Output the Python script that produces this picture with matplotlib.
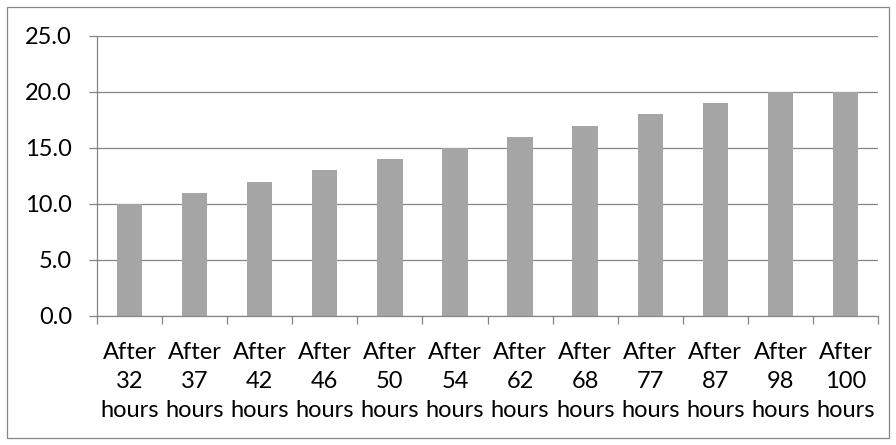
import matplotlib.pyplot as plt
from matplotlib.patches import Rectangle
from matplotlib.ticker import FixedLocator, MultipleLocator

hours = [32, 37, 42, 46, 50, 54, 62, 68, 77, 87, 98, 100]
values = [10, 11, 12, 13, 14, 15, 16, 17, 18, 19, 20, 20]
labels = [f"After\n{h}\nhours" for h in hours]

plt.rcParams["font.family"] = ["Lato", "DejaVu Sans"]

grid_color = "#868686"
bar_color = "#A5A5A5"

fig = plt.figure(figsize=(8.96, 4.45), dpi=100)
ax = fig.add_axes([97 / 896, 1 - 316 / 445, 781 / 896, 280 / 445])

x = list(range(len(values)))
ax.bar(x, values, width=0.39, color=bar_color, zorder=2)

ax.set_xlim(-0.5, len(values) - 0.5)
ax.set_ylim(0, 25)
ax.yaxis.set_major_locator(MultipleLocator(5))
ax.yaxis.set_major_formatter(lambda v, pos: f"{v:.1f}")
ax.grid(axis="y", color=grid_color, linewidth=0.9, zorder=0)

ax.set_xticks(x)
ax.set_xticklabels(labels, linespacing=1.45)
ax.xaxis.set_minor_locator(FixedLocator([i - 0.5 for i in range(len(values) + 1)]))
ax.tick_params(axis="x", which="major", length=0, pad=19, labelsize=17, colors="black")
ax.tick_params(axis="x", which="minor", length=6, width=0.9, color=grid_color)
ax.tick_params(axis="y", length=6, width=0.9, color=grid_color, pad=12, labelsize=17)

for side in ["top", "right"]:
    ax.spines[side].set_visible(False)
for side in ["left", "bottom"]:
    ax.spines[side].set_color(grid_color)
    ax.spines[side].set_linewidth(0.9)

# outer chart border
fig.patches.append(Rectangle((7 / 896, 7 / 445), 882 / 896, 431 / 445,
                             transform=fig.transFigure, fill=False,
                             edgecolor=grid_color, linewidth=0.9))

fig.savefig("out.png", dpi=100)
